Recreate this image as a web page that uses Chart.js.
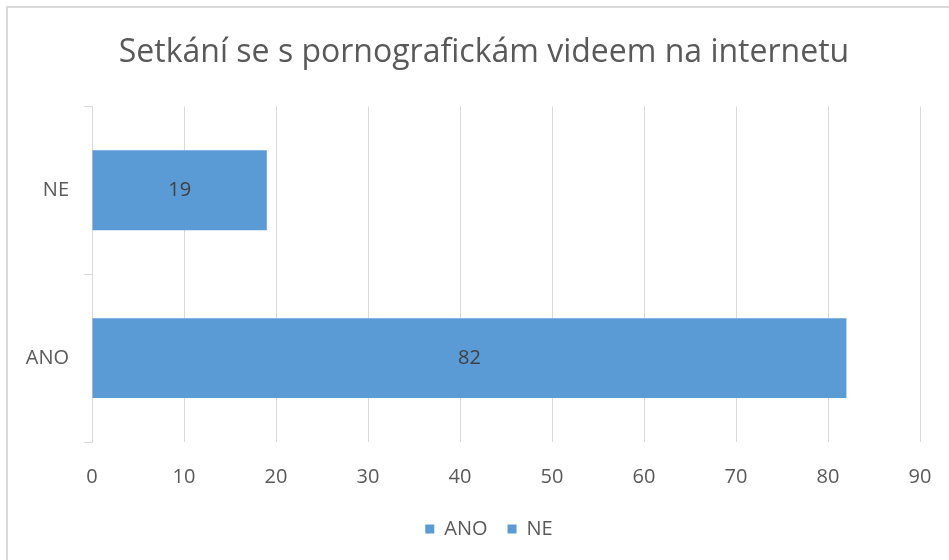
<!DOCTYPE html>
<html>
<head>
<meta charset="utf-8">
<script src="https://cdn.jsdelivr.net/npm/chart.js@4/dist/chart.umd.min.js"></script>
<style>
  html, body { margin:0; padding:0; background:#fff; overflow:hidden; width:949px; height:560px; }
  #frame { position:absolute; left:6px; top:6px; width:956px; height:552px; border:2px solid #d9d9d9; }
  #chart { display:block; }
</style>
</head>
<body>
<div id="frame"><canvas id="chart" width="956" height="552"></canvas></div>
<script>
// ---- data ----
const title = 'Setkání se s pornografickám videem na internetu';
const categories = ['ANO', 'NE'];
const values = [82, 19];
const xTicks = [0, 10, 20, 30, 40, 50, 60, 70, 80, 90];

const barColor = '#5B9BD5';
const gridColor = '#d9d9d9';
const textColor = '#595959';
const FONT = "'Open Sans', 'DejaVu Sans', sans-serif";

// one dataset per category so the legend lists both, stacked into the same slot
const datasets = categories.map((c, i) => ({
  label: c,
  data: values.map((v, j) => j === i ? v : null),
  backgroundColor: barColor,
  borderWidth: 0,
  categoryPercentage: 0.476,
  barPercentage: 1
}));

// value labels in the middle of each bar
const valueLabels = {
  id: 'valueLabels',
  afterDatasetsDraw(chart){
    const ctx = chart.ctx;
    ctx.save();
    ctx.font = '20px ' + FONT;
    ctx.fillStyle = '#404040';
    ctx.textAlign = 'center';
    ctx.textBaseline = 'middle';
    chart.data.datasets.forEach((ds, di) => {
      const meta = chart.getDatasetMeta(di);
      meta.data.forEach((el, i) => {
        const v = ds.data[i];
        if(v === null || v === undefined) return;
        ctx.fillText(String(v), (el.x + el.base) / 2, el.y);
      });
    });
    ctx.restore();
  }
};

// the original frame is wider than the window, so title and legend sit a bit right
const nudge = {
  id: 'nudge',
  afterLayout(chart){
    if(chart.titleBlock){ chart.titleBlock.left += 20; chart.titleBlock.right += 20; }
    if(chart.legend){ chart.legend.left += 25; chart.legend.right += 25; }
  }
};

new Chart(document.getElementById('chart'), {
  type: 'bar',
  data: { labels: categories, datasets },
  plugins: [valueLabels, nudge],
  options: {
    indexAxis: 'y',
    responsive: false,
    animation: false,
    layout: { padding: { left: 0, right: 44, top: 0, bottom: 11 } },
    plugins: {
      title: {
        display: true,
        text: title,
        color: textColor,
        font: { family: FONT, size: 32, weight: 'normal' },
        padding: { top: 26, bottom: 34 }
      },
      legend: {
        position: 'bottom',
        labels: {
          color: textColor,
          font: { family: FONT, size: 20 },
          boxWidth: 9,
          boxHeight: 9,
          padding: 20
        }
      },
      tooltip: { enabled: false }
    },
    scales: {
      x: {
        stacked: true,
        min: 0,
        max: 90,
        afterBuildTicks: s => { s.ticks = xTicks.map(v => ({ value: v })); },
        afterFit: s => { s.height = 57; },
        grid: { color: gridColor, lineWidth: 1, drawTicks: false },
        border: { display: false },
        ticks: { color: textColor, font: { family: FONT, size: 20 }, padding: 23 }
      },
      y: {
        stacked: true,
        reverse: true,
        afterFit: s => { s.width = 84; },
        grid: { drawOnChartArea: false, drawTicks: true, tickLength: 8, color: gridColor, offset: true },
        border: { display: true, color: gridColor },
        ticks: { color: textColor, font: { family: FONT, size: 20 }, padding: 15 }
      }
    }
  }
});
</script>
</body>
</html>
